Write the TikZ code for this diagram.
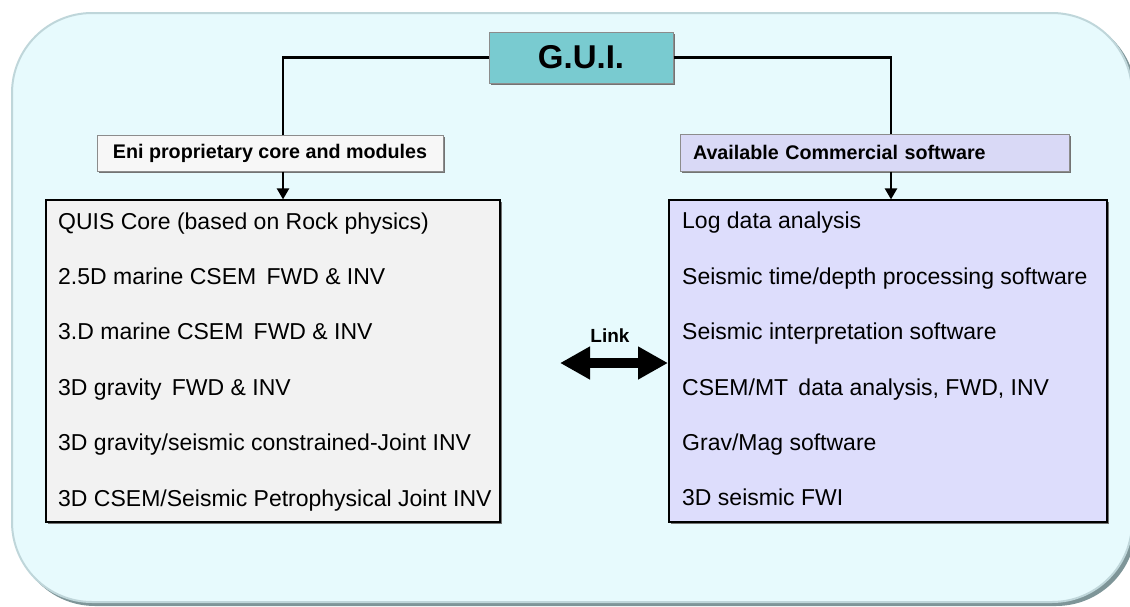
\documentclass[tikz,border=0pt]{standalone}
\usepackage{fontspec}
\setmainfont{Liberation Sans}
\usetikzlibrary{arrows.meta,shadows}
\definecolor{panelbg}{HTML}{E7FAFD}
\definecolor{panelrim}{HTML}{BFD6DA}
\definecolor{panelshade}{HTML}{7E9598}
\definecolor{guifill}{HTML}{79CBD0}
\definecolor{leftfill}{HTML}{F2F2F2}
\definecolor{rightfill}{HTML}{DDDDFC}
\definecolor{enifill}{HTML}{F7F7F7}
\definecolor{availfill}{HTML}{D9D9F6}
\definecolor{bevel}{HTML}{8C8C8C}
\tikzset{
  px/.style={x=1pt,y=-1pt},
  titlebox/.style={draw=bevel,line width=1pt,minimum width=#1,inner sep=0pt,
    drop shadow={shadow xshift=1.5pt,shadow yshift=-1.5pt,fill=black!55,opacity=1}},
  listbox/.style={draw=black,line width=1.2pt,inner sep=0pt,
    drop shadow={shadow xshift=2pt,shadow yshift=-2pt,fill=black!55,opacity=1}},
  headtext/.style={font=\fontsize{19.7}{23}\selectfont\bfseries},
  itemtext/.style={font=\fontsize{23}{27}\selectfont,anchor=west,inner sep=0pt,
    text height=16.5pt,text depth=4.8pt},
  wire/.style={line width=2.4pt,black},
  wirearrow/.style={wire,-{Triangle[length=11pt,width=12pt]}},
}
\begin{document}
\begin{tikzpicture}[px]
\useasboundingbox (0,0) rectangle (1130,606);
% rounded panel with a shaded rim
\fill[panelshade,rounded corners=80pt] (15,16) rectangle (1136,606);
\filldraw[fill=panelbg,draw=panelrim,line width=2pt,rounded corners=80pt] (12,13) rectangle (1132,602);

% top box
\node[titlebox=184pt,minimum height=51pt,fill=guifill,
  font=\fontsize{33}{38}\selectfont\bfseries] (gui) at (581,57.5) {G.U.I.};

% category headers
\node[titlebox=346pt,minimum height=36pt,fill=enifill,headtext] (eni) at (270,153) {Eni proprietary core and modules};
\node[titlebox=389pt,minimum height=37pt,fill=availfill,headtext,text width=363pt,align=left] (avail) at (874.5,152.5) {Available Commercial software};

% module lists
\node[listbox,fill=leftfill,minimum width=454pt,minimum height=322pt] (leftlist) at (273,361) {};
\node[listbox,fill=rightfill,minimum width=438pt,minimum height=322pt] (rightlist) at (888,361) {};

\node[itemtext] (l1) at (58,224) {QUIS Core (based on Rock physics)};
\node[itemtext] (l2) at (58,279) {2.5D marine CSEM\, FWD \& INV};
\node[itemtext] (l3) at (58,334) {3.D marine CSEM\, FWD \& INV};
\node[itemtext] (l4) at (58,390) {3D gravity\, FWD \& INV};
\node[itemtext] (l5) at (58,445) {3D gravity/seismic constrained-Joint INV};
\node[itemtext] (l6) at (58,501) {3D CSEM/Seismic Petrophysical Joint INV};

\node[itemtext] (r1) at (682,223) {Log data analysis};
\node[itemtext] (r2) at (682,279) {Seismic time/depth processing software};
\node[itemtext] (r3) at (682,334) {Seismic interpretation software};
\node[itemtext] (r4) at (682,390) {CSEM/MT\, data analysis, FWD, INV};
\node[itemtext] (r5) at (682,445) {Grav/Mag software};
\node[itemtext] (r6) at (682,500) {3D seismic FWI};

% connectors from the top box
\draw[wire] (gui.west) -| (eni.north -| 283,0);
\draw[wire] (gui.east) -| (avail.north -| 891,0);
\draw[wirearrow] (eni.south -| 283,0) -- (leftlist.north -| 283,0);
\draw[wirearrow] (avail.south -| 891,0) -- (rightlist.north -| 891,0);

% link between the two lists
\coordinate (linkL) at (560,363);
\coordinate (linkR) at (668,363);
\draw[line width=10pt,{Triangle[length=30pt,width=31pt]}-{Triangle[length=30pt,width=31pt]}] (linkL) -- (linkR);
\node[font=\fontsize{19}{22}\selectfont\bfseries] (linklabel) at (610,336) {Link};
\end{tikzpicture}
\end{document}
